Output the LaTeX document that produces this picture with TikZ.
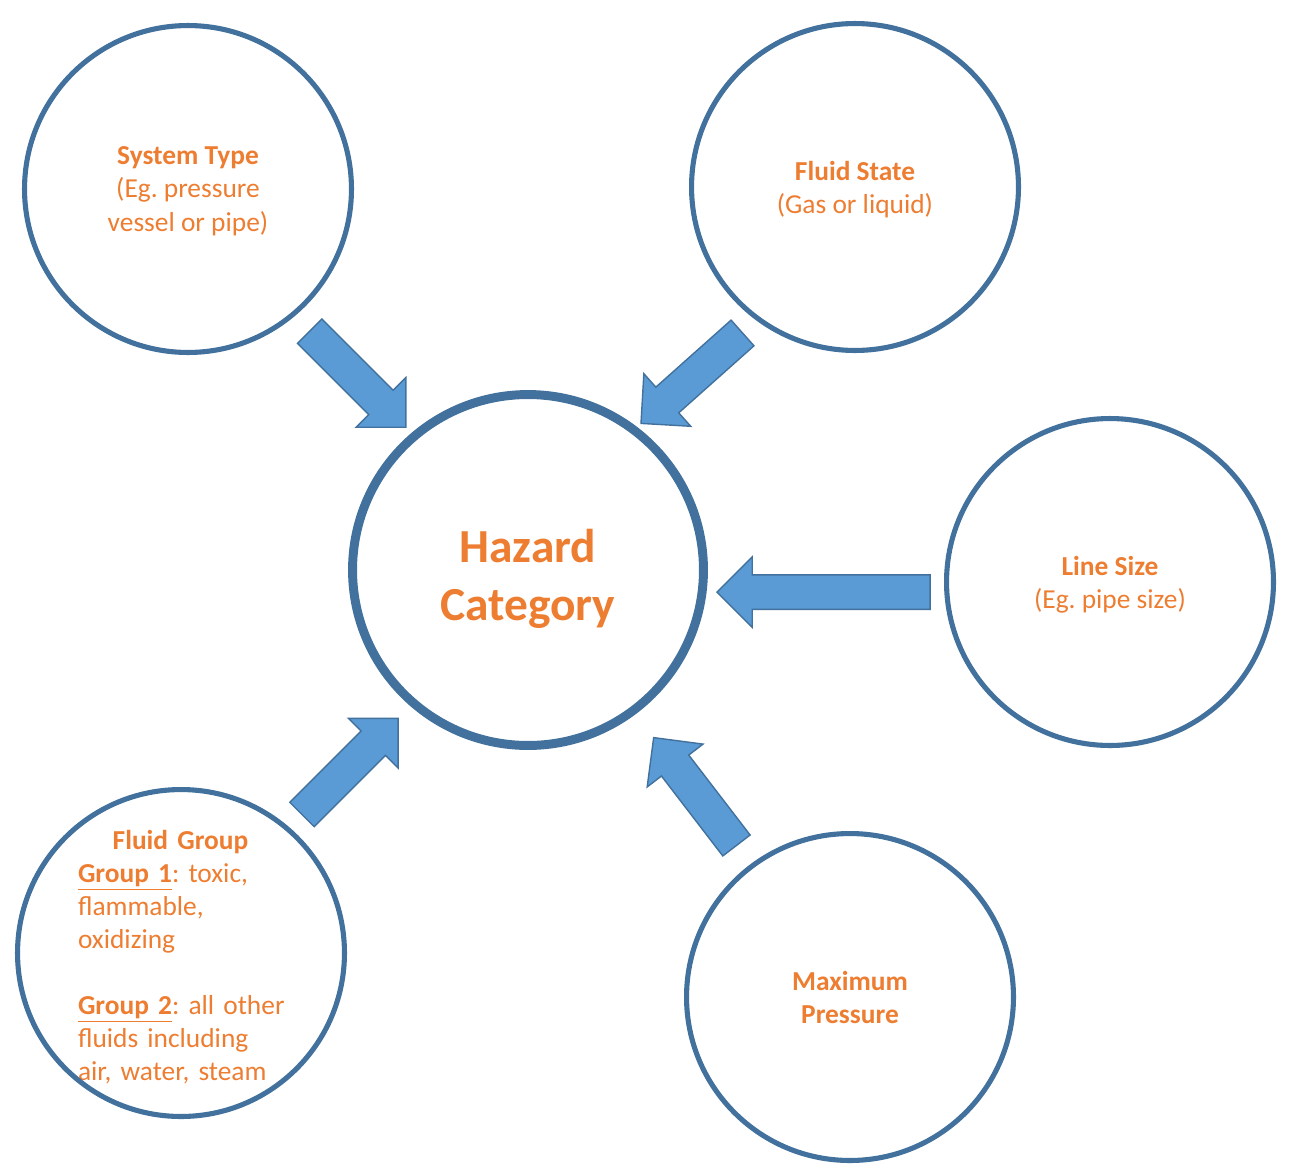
\documentclass[tikz,border=0pt]{standalone}
\usepackage{fontspec}
\setmainfont{Carlito}
\usetikzlibrary{shapes.arrows}
\definecolor{ringblue}{HTML}{41719C}
\definecolor{arrowblue}{HTML}{5B9BD5}
\definecolor{txtorange}{HTML}{ED7D31}
\frenchspacing

\begin{document}
\begin{tikzpicture}[x=0.02cm, y=-0.02cm,
  ring/.style={circle, draw=ringblue, line width=2.9pt, minimum size=6.54cm, inner sep=0pt,
    text=txtorange, align=center, text depth=0pt, font=\fontsize{15.6}{18.8}\selectfont},
  fat/.style={single arrow, draw=ringblue, fill=arrowblue, line width=0.8pt, inner xsep=0pt, inner ysep=0.33cm,
    minimum height=2.72cm, minimum width=1.38cm, single arrow head extend=0.36cm,
    single arrow tip angle=90}]
\useasboundingbox (0,0) rectangle (1300,1173);

\node [ring, line width=5.1pt, minimum size=7.02cm, font=\fontsize{27}{33.4}\selectfont\bfseries] (haz) at (528,570) {\rule{0pt}{24.5pt}Hazard\\Category};
\node [ring] (sys) at (188,189) {\textbf{System Type}\\(Eg. pressure\\vessel or pipe)};
\node [ring] (state) at (855,187) {\textbf{Fluid State}\\(Gas or liquid)};
\node [ring] (size) at (1110,582) {\textbf{Line Size}\\(Eg. pipe size)};
\node [ring] (press) at (850,997) {\textbf{Maximum}\\\textbf{Pressure}};

% fluid group text sits under its ring
\node [text=txtorange, text width=4.3cm, align=left, inner sep=0pt, font=\fontsize{15.6}{18.8}\selectfont] (grptxt) at (185.5,957)
  {\makebox[4.1cm]{\textbf{Fluid Group}}\\
   \underline{\textbf{Group 1}}: toxic,\\flammable,\\oxidizing\\[18.8pt]
   \underline{\textbf{Group 2}}: all other\\fluids including\\air, water, steam};
\node [ring] (grp) at (181,953) {};

\path (sys.center) -- node[fat, pos=0.499, rotate=-45, xshift=-0.17cm] (a1) {} (haz.center);
\path (state.center) -- node[fat, pos=0.499, rotate=-138.3, xshift=-0.17cm] (a2) {} (haz.center);
\path (size.center) -- node[fat, pos=0.492, yshift=-0.32cm, rotate=180, xshift=-0.17cm, minimum height=4.26cm] (a3) {} (haz.center);
\path (grp.center) -- node[fat, pos=0.487, rotate=45, xshift=-0.17cm] (a4) {} (haz.center);
\path (press.center) -- node[fat, pos=0.481, rotate=127.5, xshift=-0.17cm] (a5) {} (haz.center);
\end{tikzpicture}
\end{document}
